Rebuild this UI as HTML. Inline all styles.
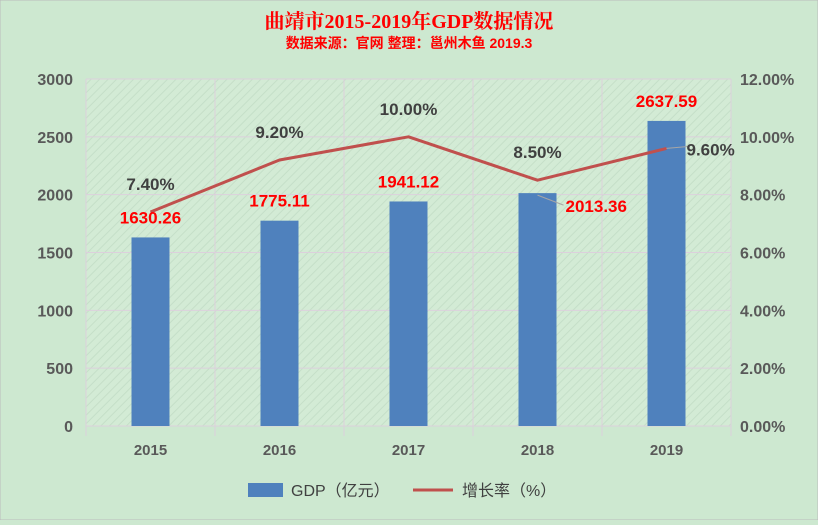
<!DOCTYPE html>
<html><head><meta charset="utf-8"><style>
body{margin:0;background:#cde8d0;}
svg text{font-family:"Liberation Sans","Noto Sans CJK SC",sans-serif;}
</style></head><body>
<svg width="818" height="520" viewBox="0 0 818 520" xmlns="http://www.w3.org/2000/svg">
<defs><pattern id="hatch" width="6" height="6" patternUnits="userSpaceOnUse" patternTransform="rotate(45)"><rect width="6" height="6" fill="#d3ebd5"/><line x1="0" y1="0" x2="0" y2="6" stroke="#c5dfc8" stroke-width="2"/></pattern></defs>
<rect x="0" y="0" width="818" height="520" fill="#cde8d0" stroke="#bbb"/>
<text x="409" y="28" text-anchor="middle" font-size="20" font-weight="bold" fill="#ff0000" style="font-family:'Liberation Serif','Noto Serif CJK SC',serif">曲靖市2015-2019年GDP数据情况</text>
<text x="409" y="48" text-anchor="middle" font-size="14" font-weight="bold" fill="#ff0000">数据来源：官网  整理：邕州木鱼  2019.3</text>
<rect x="86" y="79" width="645" height="347" fill="url(#hatch)"/>
<g id="grid"></g><g id="bars"></g><g id="line"></g><g id="labels"></g><g id="axes"></g>
<g>
<rect x="248" y="483" width="35" height="14" fill="#4f81bd"/>
<text x="291" y="496" font-size="16" fill="#404040">GDP（亿元）</text>
<line x1="413" y1="490" x2="453" y2="490" stroke="#c0504d" stroke-width="3"/>
<text x="462" y="496" font-size="16" fill="#404040">增长率（%）</text>
</g>
</svg>
<script>
const years=["2015","2016","2017","2018","2019"];
const gdp=[1630.26,1775.11,1941.12,2013.36,2637.59];
const growth=[7.40,9.20,10.00,8.50,9.60];
const leftTicks=[0,500,1000,1500,2000,2500,3000];
const rightTicks=[0,2,4,6,8,10,12];
const NS="http://www.w3.org/2000/svg";
const X0=86,X1=731,Y0=426,Y1=79;
const bw=(X1-X0)/years.length;
const xc=i=>X0+bw*(i+0.5);
const yL=v=>Y0-(v/3000)*(Y0-Y1);
const yR=v=>Y0-(v/12)*(Y0-Y1);
function mk(tag,attrs,parent,text){const e=document.createElementNS(NS,tag);for(const k in attrs)e.setAttribute(k,attrs[k]);if(text!==undefined)e.textContent=text;document.getElementById(parent).appendChild(e);return e;}
leftTicks.forEach((t,i)=>{
 const g=mk('line',{x1:X0,x2:X1,y1:yL(t),y2:yL(t),stroke:'#dcd0dc','stroke-width':1},'grid');
 
 
 const l=mk('text',{x:73,y:yL(t)+6,'text-anchor':'end','font-size':16,'font-weight':'bold',fill:'#595959'},'axes',String(t));
 
 
});
rightTicks.forEach(t=>{
 const l=mk('text',{x:740,y:yR(t)+6,'font-size':16,'font-weight':'bold',fill:'#595959'},'axes',t.toFixed(2)+'%');
 
 
});
for(let i=0;i<=years.length;i++){
 const g=mk('line',{x1:X0+bw*i,x2:X0+bw*i,y1:Y1,y2:Y0+10,stroke:'#dcd0dc','stroke-width':1},'grid');
 
 
}
years.forEach((y,i)=>{
 const b=mk('rect',{x:xc(i)-19,y:yL(gdp[i]),width:38,height:Y0-yL(gdp[i]),fill:'#4f81bd'},'bars');
 
 
 const t=mk('text',{x:xc(i),y:455,'text-anchor':'middle','font-size':15,'font-weight':'bold',fill:'#595959'},'axes',y);
 
 
});
const pts=growth.map((g,i)=>xc(i)+','+yR(g)).join(' ');
const pl=mk('polyline',{points:pts,fill:'none',stroke:'#c0504d','stroke-width':3,'stroke-linejoin':'round'},'line');


growth.forEach((g,i)=>{
 let x=xc(i),y=yR(g)-22,a='middle';
 if(i===4){x=xc(i)+20;y=yR(g)+7;a='start';
  const ld=mk('line',{x1:xc(i),y1:yR(g),x2:x+3,y2:yR(g)-2,stroke:'#a6a6a6'},'labels');
  
  }
 const t=mk('text',{x:x,y:y,'text-anchor':a,'font-size':17,'font-weight':'bold',fill:'#404040'},'labels',g.toFixed(2)+'%');
 
 
});
gdp.forEach((v,i)=>{
 let x=xc(i),y=yL(v)-14,a='middle';
 if(i===3){x=xc(i)+28;y=yL(v)+19;a='start';
  const ld=mk('line',{x1:xc(i),y1:yL(v)+2,x2:x-2,y2:yL(v)+12,stroke:'#a6a6a6'},'labels');
  
  }
 else if(i<3){y=yL(v)-14;}
 const t=mk('text',{x:x,y:y,'text-anchor':a,'font-size':17,'font-weight':'bold',fill:'#ff0000'},'labels',v.toFixed(2));
 
 
});
</script>
</body></html>
